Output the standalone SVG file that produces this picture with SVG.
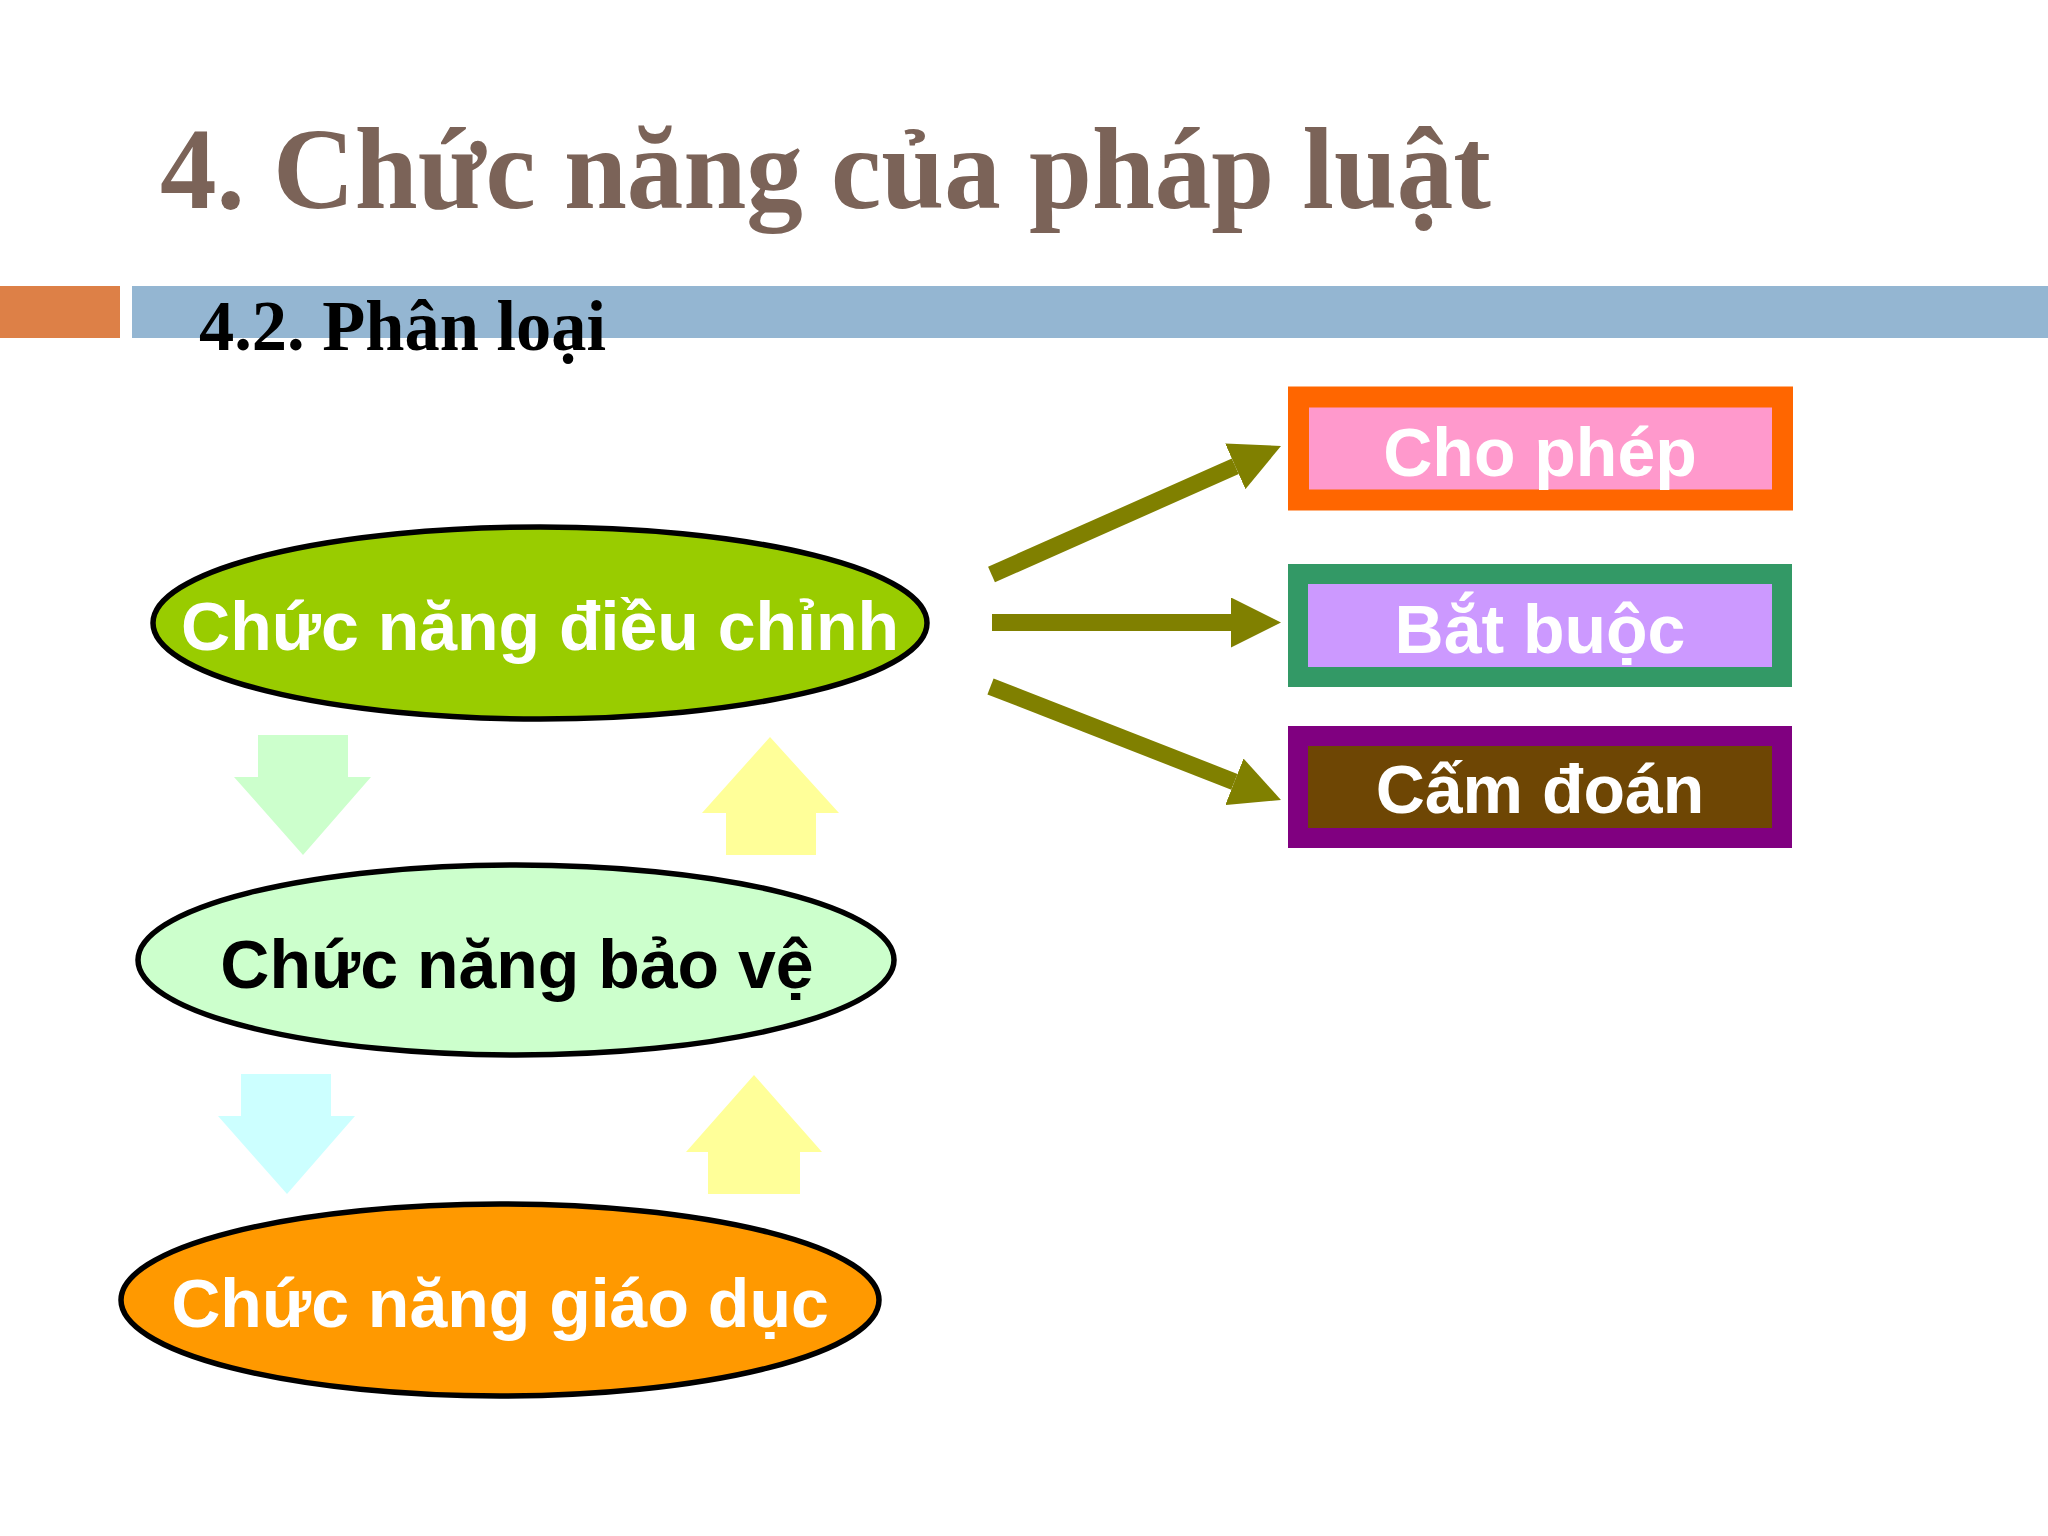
<svg xmlns="http://www.w3.org/2000/svg" width="2048" height="1536" viewBox="0 0 2048 1536">
<style>
.title{font-family:"Liberation Serif","Times New Roman",serif;font-weight:bold;}
.lbl{font-family:"Liberation Sans",Arial,sans-serif;font-weight:bold;font-size:68px;text-anchor:middle;}
.ell{stroke:#000;stroke-width:5.5;}
.conn{stroke:#808000;stroke-width:17;fill:none;marker-end:url(#head);}
</style>
<defs>
<marker id="head" markerUnits="userSpaceOnUse" markerWidth="50" markerHeight="50" refX="0" refY="25" orient="auto" viewBox="0 0 50 50">
<path d="M0,0 L50,25 L0,50 z" fill="#808000"/>
</marker>
</defs>
<rect x="0" y="0" width="2048" height="1536" fill="#FFFFFF"/>
<text class="title" x="160" y="208" font-size="116" fill="#7B6358" textLength="1331" lengthAdjust="spacingAndGlyphs">4. Chức năng của pháp luật</text>
<rect x="0" y="286" width="120" height="52" fill="#DD8047"/>
<rect x="132" y="286" width="1916" height="52" fill="#94B6D2"/>
<text class="title" x="199" y="350" font-size="72" fill="#000" textLength="407" lengthAdjust="spacingAndGlyphs">4.2. Phân loại</text>

<g id="arrow-down-1"><polygon points="258,735 348,735 348,777 371,777 303,855 234,777 258,777" fill="#CCFFCC"/></g>
<g id="arrow-up-1"><polygon points="770,737 839,813 816,813 816,855 726,855 726,813 702,813" fill="#FFFF99"/></g>
<g id="arrow-down-2"><polygon points="241,1074 331,1074 331,1116 355,1116 287,1194 218,1116 241,1116" fill="#CCFFFF"/></g>
<g id="arrow-up-2"><polygon points="754,1075 822,1152 800,1152 800,1194 708,1194 708,1152 686,1152" fill="#FFFF99"/></g>

<g id="node-dieu-chinh">
<ellipse class="ell" cx="540" cy="623" rx="387" ry="96" fill="#99CC00"/>
<text class="lbl" x="540" y="650" fill="#FFFFFF">Chức năng điều chỉnh</text>
</g>
<g id="node-bao-ve">
<ellipse class="ell" cx="516" cy="960" rx="378" ry="95" fill="#CCFFCC"/>
<text class="lbl" x="517" y="988" fill="#000000">Chức năng bảo vệ</text>
</g>
<g id="node-giao-duc">
<ellipse class="ell" cx="500" cy="1300" rx="379" ry="96" fill="#FF9900"/>
<text class="lbl" x="500" y="1327" fill="#FFFFFF">Chức năng giáo dục</text>
</g>

<g id="node-cho-phep">
<rect x="1298.5" y="397" width="484" height="103" fill="#FF99CC" stroke="#FF6600" stroke-width="21"/>
<text class="lbl" x="1540" y="476" fill="#FFFFFF">Cho phép</text>
</g>
<g id="node-bat-buoc">
<rect x="1298" y="574" width="484" height="103" fill="#CC99FF" stroke="#339966" stroke-width="20"/>
<text class="lbl" x="1540" y="653" fill="#FFFFFF">Bắt buộc</text>
</g>
<g id="node-cam-doan">
<rect x="1298" y="736" width="484" height="102" fill="#6E4604" stroke="#800080" stroke-width="20"/>
<text class="lbl" x="1540" y="813" fill="#FFFFFF">Cấm đoán</text>
</g>

<g id="connectors">
<line class="conn" x1="991.5" y1="574.5" x2="1235.3" y2="466.3"/>
<line class="conn" x1="992" y1="622.5" x2="1231" y2="622.5"/>
<line class="conn" x1="990.5" y1="686.5" x2="1234.4" y2="781.8"/>
</g>
</svg>
